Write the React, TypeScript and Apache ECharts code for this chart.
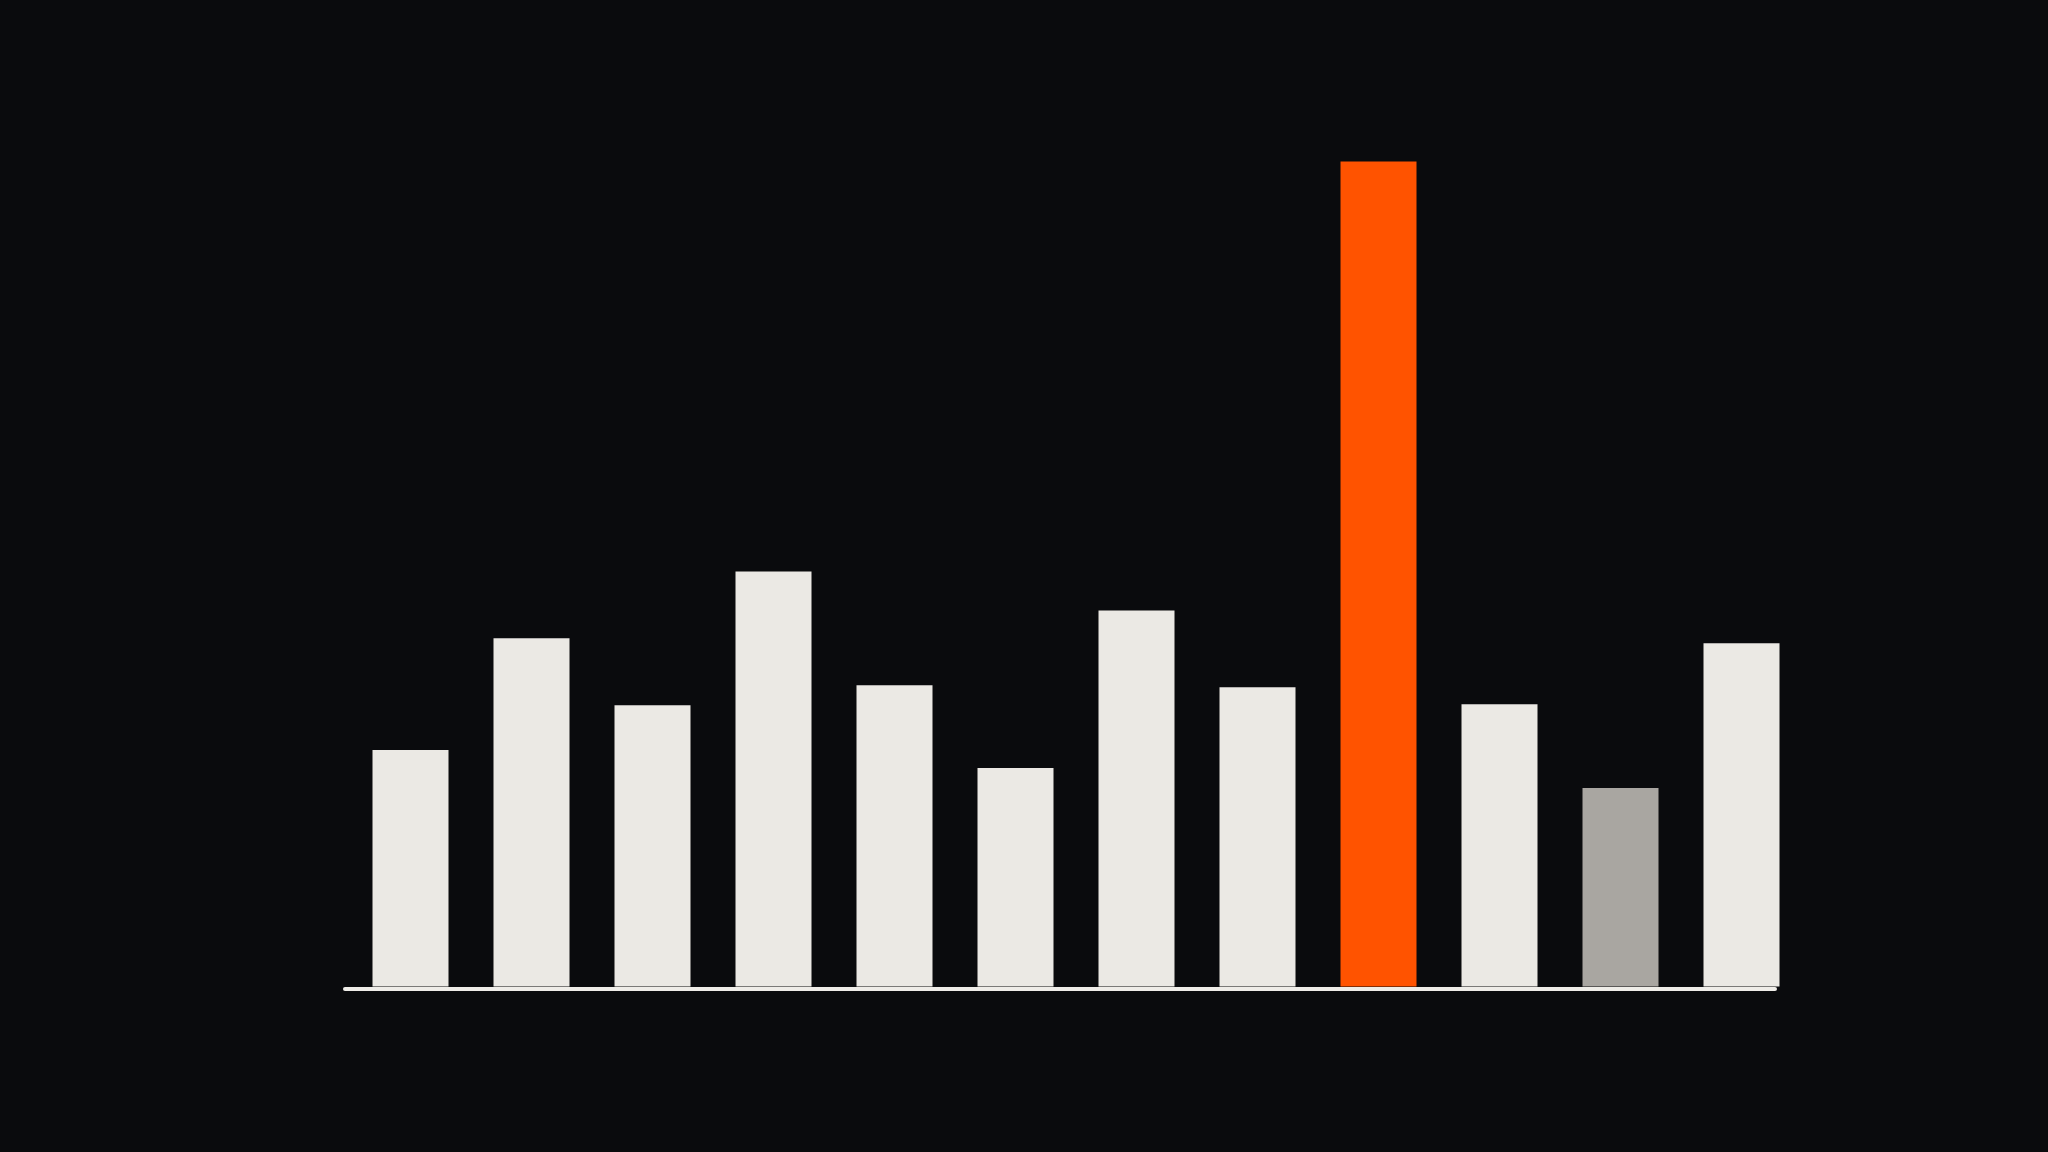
import { BarChart } from 'echarts/charts';
import { GridComponent } from 'echarts/components';
import * as echarts from 'echarts/core';
import { SVGRenderer } from 'echarts/renderers';
import { useEffect, useRef } from 'react';

echarts.use([BarChart, GridComponent, SVGRenderer]);

const categories = ['1', '2', '3', '4', '5', '6', '7', '8', '9', '10', '11', '12'];
const values = [23.7, 34.9, 28.2, 41.6, 30.2, 21.9, 37.7, 30.0, 82.7, 28.3, 19.9, 34.4];

// which bars stand out
const HIGHLIGHT = 8;
const MUTED = 10;

const BG = '#0a0b0d';
const BAR = '#ebe9e4';
const ORANGE = '#ff5300';
const GREY = '#a9a6a1';
const RULE = '#efede8';

export default function App() {
  const ref = useRef<HTMLDivElement | null>(null);

  useEffect(() => {
    if (!ref.current) return undefined;
    const chart = echarts.init(ref.current, undefined, { renderer: 'svg' });

    const hidden = {
      axisTick: { show: false },
      axisLabel: { show: false },
      splitLine: { show: false },
    };

    chart.setOption({
      animation: false,
      backgroundColor: BG,
      grid: [
        // bars
        { left: 350, right: 246, top: 148.5, bottom: 165.5 },
        // baseline rule, a bit narrower than the bar band
        { left: 345, right: 273, top: 148.5, bottom: 163 },
      ],
      xAxis: [
        {
          type: 'category',
          gridIndex: 0,
          data: categories,
          axisLine: { show: false },
          ...hidden,
        },
        {
          type: 'value',
          gridIndex: 1,
          min: 0,
          max: 1,
          z: 10,
          axisLine: { show: true, onZero: false, lineStyle: { color: RULE, width: 4 } },
          ...hidden,
        },
      ],
      yAxis: [
        { type: 'value', gridIndex: 0, min: 0, max: 84, show: false },
        { type: 'value', gridIndex: 1, min: 0, max: 1, show: false },
      ],
      series: [
        {
          type: 'bar',
          barWidth: 76,
          data: values.map((v, i) => ({
            value: v,
            itemStyle: { color: i === HIGHLIGHT ? ORANGE : i === MUTED ? GREY : BAR },
          })),
        },
      ],
    });

    return () => chart.dispose();
  }, []);

  return (
    <div
      ref={ref}
      style={{ position: 'fixed', left: 0, top: 0, width: 2048, height: 1152, background: BG }}
    />
  );
}
